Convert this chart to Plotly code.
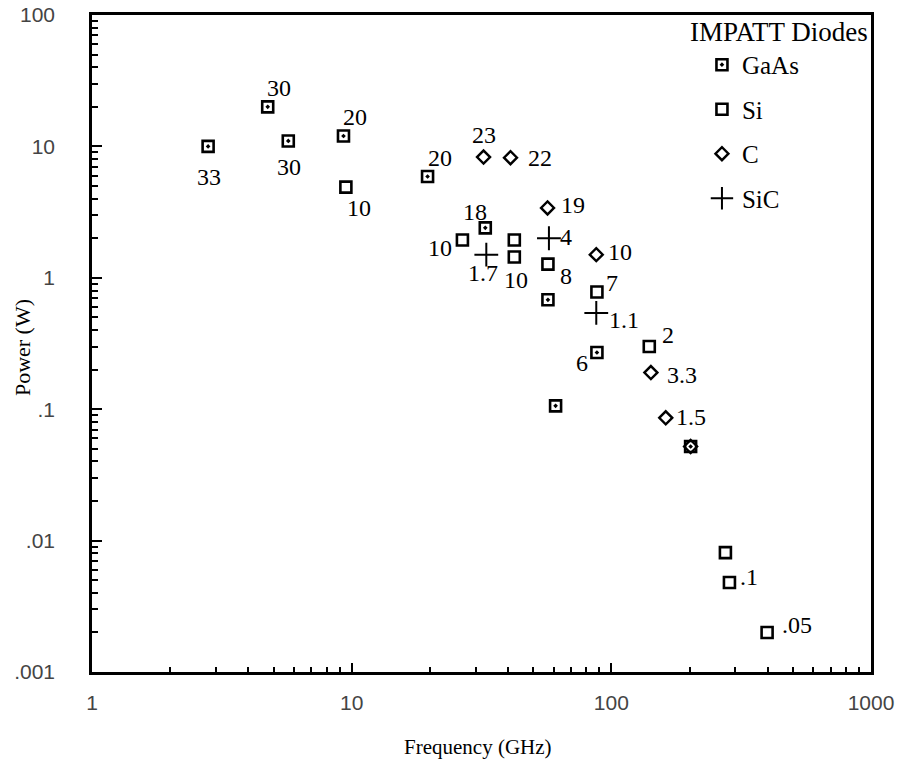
import numpy as np
import plotly.graph_objects as go

# ---------------- data ----------------
gaas_freq  = [2.8, 4.75, 5.7, 9.3, 19.6, 32.7, 57, 88, 61, 202]
gaas_power = [10, 20, 11, 12, 5.9, 2.4, 0.68, 0.27, 0.106, 0.052]
gaas_label = ["33", "30", "30", "20", "20", "18", "", "6", "", ""]

si_freq  = [9.5, 26.7, 42.3, 42.3, 57, 88, 140, 275, 285, 398]
si_power = [4.9, 1.94, 1.94, 1.44, 1.27, 0.78, 0.3, 0.0081, 0.0048, 0.002]
si_label = ["10", "10", "", "10", "8", "7", "2", "", ".1", ".05"]

c_freq  = [32.2, 40.9, 56.8, 87.5, 142, 162, 202]
c_power = [8.3, 8.2, 3.4, 1.5, 0.19, 0.086, 0.052]
c_label = ["23", "22", "19", "10", "3.3", "1.5", ""]

sic_freq  = [33, 57.5, 87.5]
sic_power = [1.5, 2.0, 0.54]
sic_label = ["1.7", "4", "1.1"]

x_tickvals = [1, 10, 100, 1000]
x_ticktext = ["1", "10", "100", "1000"]
y_tickvals = [0.001, 0.01, 0.1, 1, 10, 100]
y_ticktext = [".001", ".01", ".1", "1", "10", "100"]

x_title = "Frequency (GHz)"
y_title = "Power (W)"
legend_title = "IMPATT Diodes"

# ---------------- label offsets (pixels: dx right, dy up) ----------------
gaas_off = [(1, -31), (11, 19), (1, -26), (12, 19), (12, 19), (-10, 16), (0, 0), (-15, -10), (0, 0), (0, 0)]
si_off = [(13, -21), (-22, -8), (0, 0), (2, -23), (18, -12), (15, 9), (19, 12), (0, 0), (20, 5), (30, 7)]
c_off = [(0, 22), (29, 0), (25, 3), (24, 3), (31, -2), (25, 1), (0, 0)]
sic_off = [(-3, -18), (17, 1), (28, -7)]

SERIF = "Liberation Serif"
SANS = "Liberation Sans"

fig = go.Figure()

fig.add_trace(go.Scatter(
    x=gaas_freq, y=gaas_power, mode="markers", name="GaAs", legendgroup="g1",
    marker=dict(symbol="square-open-dot", size=11, color="black", line=dict(width=2.6, color="black")),
))
fig.add_trace(go.Scatter(
    x=si_freq, y=si_power, mode="markers", name="Si", legendgroup="g2",
    marker=dict(symbol="square-open", size=11, color="black", line=dict(width=2.6, color="black")),
))
fig.add_trace(go.Scatter(
    x=c_freq, y=c_power, mode="markers", name="C", legendgroup="g3",
    marker=dict(symbol="diamond-open", size=10, color="black", line=dict(width=2.4, color="black")),
))
fig.add_trace(go.Scatter(
    x=sic_freq, y=sic_power, mode="markers", name="SiC", legendgroup="g4",
    marker=dict(symbol="cross-thin-open", size=17, color="black", line=dict(width=2, color="black")),
))

annotations = []
for fr, pw, lab, off in [(gaas_freq, gaas_power, gaas_label, gaas_off),
                         (si_freq, si_power, si_label, si_off),
                         (c_freq, c_power, c_label, c_off),
                         (sic_freq, sic_power, sic_label, sic_off)]:
    for f, p, t, (dx, dy) in zip(fr, pw, lab, off):
        if not t:
            continue
        annotations.append(dict(
            x=np.log10(f), y=np.log10(p), xref="x", yref="y", text=t,
            showarrow=False, xshift=dx, yshift=dy,
            font=dict(family=SERIF, size=24, color="black"),
        ))

annotations.append(dict(
    x=0.882, y=0.9745, xref="paper", yref="paper", text=legend_title,
    showarrow=False, xanchor="center", yanchor="middle",
    font=dict(family=SERIF, size=27, color="black"),
))
# axis titles
annotations.append(dict(
    x=0.495, y=0, xref="paper", yref="paper", text=x_title,
    showarrow=False, xanchor="center", yanchor="middle", yshift=-75,
    font=dict(family=SERIF, size=21, color="black"),
))
annotations.append(dict(
    x=0, y=0.493, xref="paper", yref="paper", text=y_title, textangle=-90,
    showarrow=False, xanchor="center", yanchor="middle", xshift=-70,
    font=dict(family=SERIF, size=22, color="black"),
))

minor_x = [m * 10 ** d for d in range(0, 3) for m in range(2, 10)]
minor_y = [m * 10.0 ** d for d in range(-3, 2) for m in range(2, 10)]

fig.update_layout(
    width=901, height=769,
    margin=dict(l=92, r=30, t=15, b=97, autoexpand=False),
    paper_bgcolor="white", plot_bgcolor="white",
    showlegend=True,
    legend=dict(
        x=0.783, y=0.959, xanchor="left", yanchor="top",
        font=dict(family=SERIF, size=25, color="black"),
        bgcolor="rgba(0,0,0,0)", itemwidth=30, tracegroupgap=9,
    ),
    annotations=annotations,
)

fig.update_xaxes(
    type="log", range=[0, 3], automargin=False,
    tickvals=x_tickvals, ticktext=x_ticktext,
    ticks="inside", ticklen=9, tickwidth=2, tickcolor="black",
    minor=dict(tickvals=minor_x, ticks="inside", ticklen=5, tickwidth=1.5, tickcolor="black", showgrid=False),
    showline=True, linewidth=2.6, linecolor="black", mirror=True,
    showgrid=False, zeroline=False,
    ticklabelstandoff=10,
    tickfont=dict(family=SANS, size=21, color="#444"),
)
fig.update_yaxes(
    type="log", range=[-3, 2], automargin=False,
    tickvals=y_tickvals, ticktext=y_ticktext,
    ticks="inside", ticklen=10, tickwidth=2, tickcolor="black",
    minor=dict(tickvals=minor_y, ticks="inside", ticklen=6, tickwidth=1.5, tickcolor="black", showgrid=False),
    showline=True, linewidth=2.6, linecolor="black", mirror=True,
    showgrid=False, zeroline=False,
    ticklabelstandoff=30,
    tickfont=dict(family=SANS, size=21, color="#444"),
)

fig.write_html("out.html")
